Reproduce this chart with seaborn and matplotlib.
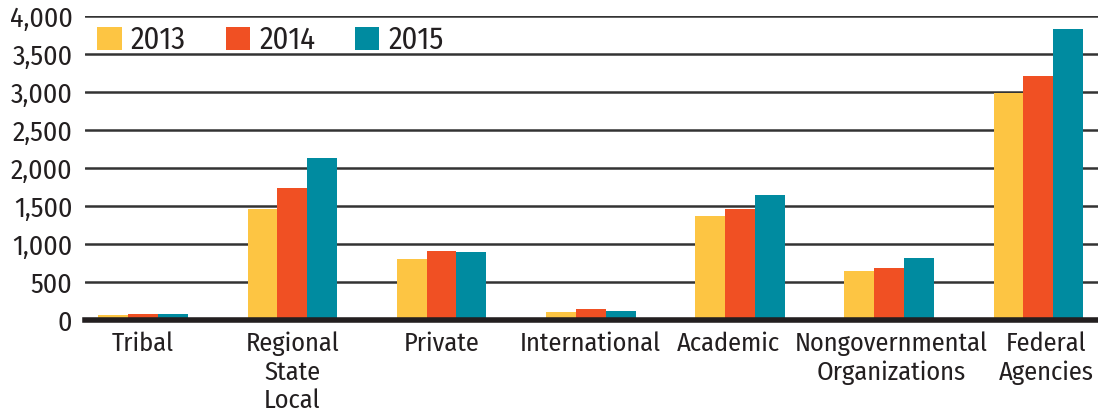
import pandas as pd
import seaborn as sns
import matplotlib.pyplot as plt
import matplotlib.transforms as mtransforms

# Data
categories = ['Tribal', 'Regional\nState\nLocal', 'Private', 'International',
              'Academic', 'Nongovernmental\nOrganizations', 'Federal\nAgencies']
years = ['2013', '2014', '2015']
v2013 = [65, 1465, 805, 105, 1375, 640, 2990]
v2014 = [80, 1740, 910, 140, 1455, 680, 3210]
v2015 = [80, 2135, 900, 120, 1650, 810, 3830]
colors = ['#FDC543', '#F05023', '#008BA0']

df = pd.DataFrame({
    'category': categories * 3,
    'year': [y for y in years for _ in categories],
    'value': v2013 + v2014 + v2015,
})

sns.set_style('white')
plt.rcParams['font.family'] = ['Fira Sans Condensed', 'DejaVu Sans']

fig = plt.figure(figsize=(10.98, 4.2), dpi=100)
ax = fig.add_axes([85 / 1098, 1 - 320 / 420, 1 - 85 / 1098, 304 / 420])

sns.barplot(data=df, x='category', y='value', hue='year', palette=colors,
            width=0.6, saturation=1, ax=ax, zorder=3, edgecolor='none', linewidth=0)

ax.set_ylim(0, 4000)
ax.set_xlim(-0.39, 6.4)
ax.set_yticks(range(0, 4001, 500))
ax.set_yticklabels([f'{v:,}' for v in range(0, 4001, 500)], fontsize=20, color='#231f20')
ax.tick_params(axis='x', labelsize=19, labelcolor='#231f20', length=0, pad=8)
ax.tick_params(axis='y', length=0, pad=9)

# nudge the crowded labels on the right apart a little
nudge = {'Academic': -12, 'Nongovernmental\nOrganizations': 2, 'Federal\nAgencies': 8}
for lbl in ax.get_xticklabels():
    lbl.set_linespacing(1.2)
    dx = nudge.get(lbl.get_text(), 0)
    if dx:
        lbl.set_transform(lbl.get_transform() +
                          mtransforms.ScaledTranslation(dx / 100, 0, fig.dpi_scale_trans))

ax.yaxis.grid(True, color='#333333', linewidth=1.8, zorder=0)
ax.set_axisbelow(True)
sns.despine(ax=ax, left=True, right=True, top=True)
ax.spines['bottom'].set_linewidth(4)
ax.spines['bottom'].set_color('#231f20')
ax.spines['bottom'].set_zorder(5)
ax.set_xlabel('')
ax.set_ylabel('')

leg = ax.legend(ncol=3, frameon=False, loc='upper left', bbox_to_anchor=(0.003, 1.0),
                fontsize=22, handlelength=0.8, handleheight=0.8, columnspacing=1.3,
                handletextpad=0.3, borderaxespad=0.1, borderpad=0.2)
for t in leg.get_texts():
    t.set_color('#231f20')

fig.savefig('out.png', dpi=100)
